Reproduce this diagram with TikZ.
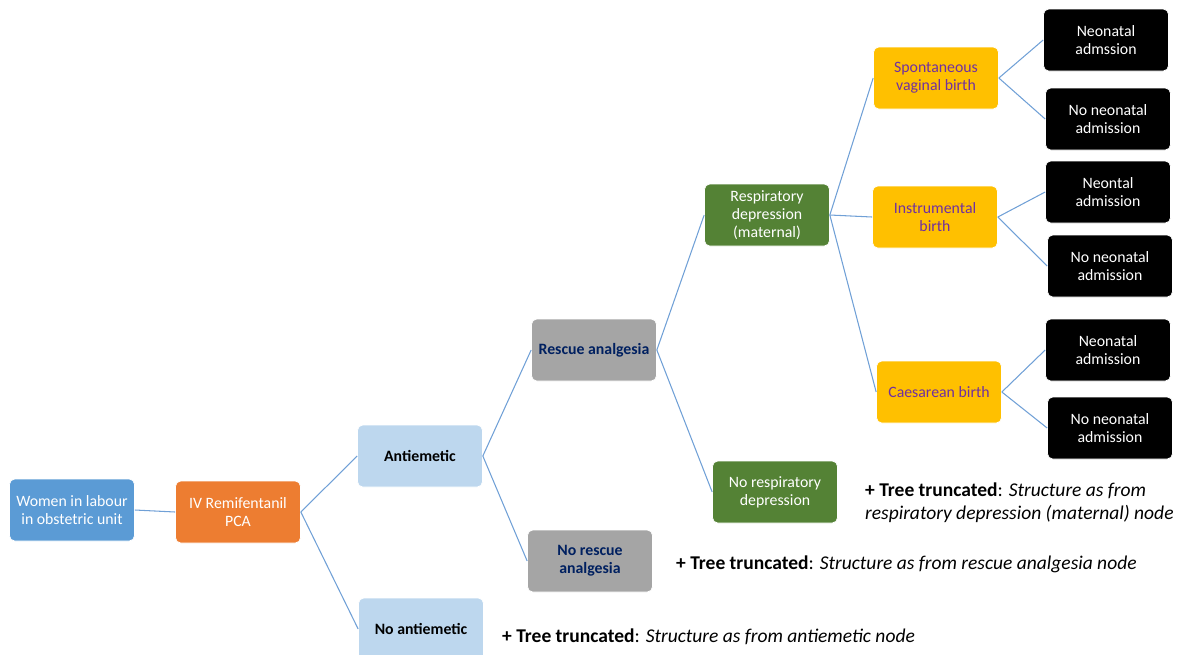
\documentclass[tikz,border=0pt]{standalone}
\usepackage{fontspec}
\setmainfont{Carlito}
\usepackage{xcolor}
\definecolor{womencolor}{RGB}{91,155,213}
\definecolor{pcacolor}{RGB}{237,125,49}
\definecolor{emeticcolor}{RGB}{189,215,238}
\definecolor{rescuecolor}{RGB}{165,165,165}
\definecolor{navytext}{RGB}{0,32,96}
\definecolor{respcolor}{RGB}{84,130,53}
\definecolor{birthcolor}{RGB}{255,192,0}
\definecolor{purpletext}{RGB}{112,48,160}
\definecolor{linecolor}{RGB}{112,160,214}

\begin{document}
\begin{tikzpicture}[
    x=0.02cm, y=-0.02cm,
    box/.style={rectangle, draw=white, line width=0.4pt, rounded corners=3pt, minimum width=2.5cm, minimum height=1.24cm, inner sep=1pt, align=center, font=\fontsize{9}{10.4}\selectfont},
    outcome/.style={box, fill=black, text=white},
    edge/.style={draw=linecolor, line width=0.6pt},
    note/.style={anchor=west, align=left, font=\fontsize{11.1}{13}\selectfont}
]
\useasboundingbox (0,0) rectangle (1187,654);

\node (women) [box, fill=womencolor, text=white] at (72,510) {Women in labour\\in obstetric unit};
\node (pca) [box, fill=pcacolor, text=white] at (238,512) {IV Remifentanil\\PCA};
\node (antiemetic) [box, fill=emeticcolor, font=\fontsize{9}{10.4}\selectfont\bfseries] at (420,456) {Antiemetic};
\node (noantiemetic) [box, fill=emeticcolor, font=\fontsize{9}{10.4}\selectfont\bfseries] at (421,629) {No antiemetic};
\node (rescue) [box, fill=rescuecolor, text=navytext, font=\fontsize{9}{10.4}\selectfont\bfseries] at (594,350) {Rescue analgesia};
\node (norescue) [box, fill=rescuecolor, text=navytext, font=\fontsize{9}{10.4}\selectfont\bfseries] at (590,561) {No rescue\\analgesia};
\node (resp) [box, fill=respcolor, text=white] at (767,215) {Respiratory\\depression\\(maternal)};
\node (noresp) [box, fill=respcolor, text=white] at (775,492) {No respiratory\\depression};
\node (svb) [box, fill=birthcolor, text=purpletext] at (936,78) {Spontaneous\\vaginal birth};
\node (instr) [box, fill=birthcolor, text=purpletext] at (935,217) {Instrumental\\birth};
\node (caes) [box, fill=birthcolor, text=purpletext] at (939,392) {Caesarean birth};
\node (adm1) [outcome] at (1106,40) {Neonatal\\admssion};
\node (noadm1) [outcome] at (1108,119) {No neonatal\\admission};
\node (adm2) [outcome] at (1108,192) {Neontal\\admission};
\node (noadm2) [outcome] at (1110,266) {No neonatal\\admission};
\node (adm3) [outcome] at (1108,350) {Neonatal\\admission};
\node (noadm3) [outcome] at (1110,428) {No neonatal\\admission};

\node (noteresp) [note] at (859,503) {\textbf{+ Tree truncated}: \textit{Structure as from}\\\textit{respiratory depression (maternal) node}};
\node (noterescue) [note] at (670,564) {\textbf{+ Tree truncated}: \textit{Structure as from rescue analgesia node}};
\node (noteemetic) [note] at (496,637) {\textbf{+ Tree truncated}: \textit{Structure as from antiemetic node}};

\draw [edge] (women.east) -- (pca.west);
\draw [edge] (pca.east) -- (antiemetic.west);
\draw [edge] (pca.east) -- (noantiemetic.west);
\draw [edge] (antiemetic.east) -- (rescue.west);
\draw [edge] (antiemetic.east) -- (norescue.west);
\draw [edge] (rescue.east) -- (resp.west);
\draw [edge] (rescue.east) -- (noresp.west);
\draw [edge] (resp.east) -- (svb.west);
\draw [edge] (resp.east) -- (instr.west);
\draw [edge] (resp.east) -- (caes.west);
\draw [edge] (svb.east) -- (adm1.west);
\draw [edge] (svb.east) -- (noadm1.west);
\draw [edge] (instr.east) -- (adm2.west);
\draw [edge] (instr.east) -- (noadm2.west);
\draw [edge] (caes.east) -- (adm3.west);
\draw [edge] (caes.east) -- (noadm3.west);
\end{tikzpicture}
\end{document}
